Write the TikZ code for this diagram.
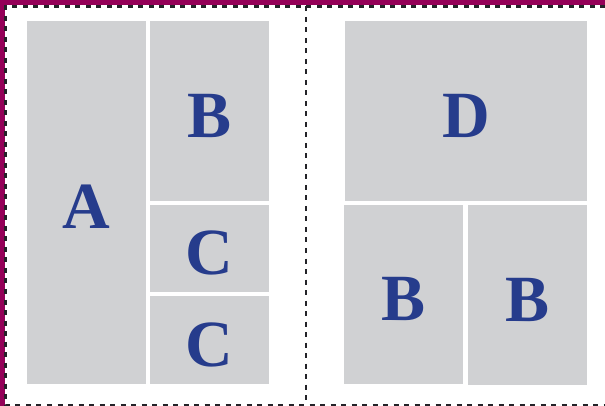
\documentclass[tikz,border=0pt]{standalone}
\usepackage{fontspec}
\setmainfont{Liberation Serif}
\usetikzlibrary{positioning}
\definecolor{mygray}{RGB}{208,209,211}
\definecolor{myblue}{RGB}{38,60,140}
\definecolor{mymagenta}{RGB}{148,0,88}
\definecolor{mydark}{RGB}{35,35,40}
\tikzset{
  panel/.style={rectangle, fill=mygray, inner sep=0pt, anchor=north west,
    font=\fontsize{66}{66}\selectfont\bfseries, text=myblue,
    text height=52pt, text depth=0pt},
  cutline/.style={line width=2.2pt, color=mydark, dash pattern=on 5pt off 5.5pt}
}

\begin{document}
\begin{tikzpicture}[x=1pt, y=-1pt]
  \useasboundingbox (0,0) rectangle (605,406);
  % page edge
  \fill[mymagenta] (0,0) rectangle (605,5.5);
  \fill[mymagenta] (0,0) rectangle (4.5,406);

  % left sheet
  \node[panel, minimum width=119pt, minimum height=363pt] (a) at (27,21) {A};
  \node[panel, minimum width=119pt, minimum height=180pt] (b) at (150,21) {B};
  \node[panel, minimum width=119pt, minimum height=87pt] (c1) at (150,205) {C};
  \node[panel, minimum width=119pt, minimum height=88pt] (c2) at (150,296) {C};

  % right sheet
  \node[panel, minimum width=242pt, minimum height=180pt] (d) at (345,21) {D};
  \node[panel, minimum width=119pt, minimum height=179pt] (b2) at (344,205) {B};
  \node[panel, minimum width=119pt, minimum height=180pt] (b3) at (468,205) {B};

  % cut lines
  \coordinate (tl) at (5.5,6.5);
  \coordinate (tr) at (605,6.5);
  \coordinate (bl) at (5.5,405);
  \coordinate (br) at (605,405);
  \coordinate (mt) at (306,6.5);
  \coordinate (mb) at (306,405);
  \draw[cutline] (tr) -- (tl) -- (bl) -- (br);
  \draw[cutline] (mt) -- (mb);
\end{tikzpicture}
\end{document}
